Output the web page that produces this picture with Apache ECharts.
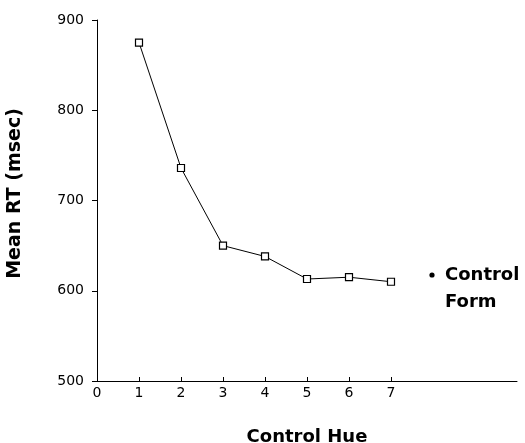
<!DOCTYPE html>
<html>
<head>
<meta charset="utf-8">
<script src="https://cdn.jsdelivr.net/npm/echarts@6/dist/echarts.min.js"></script>
<style>
	html, body { margin: 0; padding: 0; background: #fff; }
	#chart { width: 525px; height: 443px; }
</style>
</head>
<body>
<div id="chart"></div>
<script>
// x axis categories (0..10), only 0..7 are labelled
var hueTicks = ['0', '1', '2', '3', '4', '5', '6', '7', '8', '9', '10'];
var hueLevels = [1, 2, 3, 4, 5, 6, 7];
var meanRT = [875, 736, 650, 638, 613, 615, 610];

var chart = echarts.init(document.getElementById('chart'));
var font = 'DejaVu Sans';

var pts = [];
for (var i = 0; i < hueLevels.length; i++) {
	pts.push([String(hueLevels[i]), meanRT[i]]);
}

option = {
	animation: false,
	grid: {
		left: 97,
		right: 8,
		top: 20,
		bottom: 62,
		containLabel: false,
		outerBoundsMode: 'none'
	},
	xAxis: {
		type: 'category',
		data: hueTicks,
		boundaryGap: false,
		name: 'Control Hue',
		nameLocation: 'middle',
		nameGap: 47,
		nameTextStyle: { fontFamily: font, fontWeight: 'bold', fontSize: 18, color: '#000' },
		axisLine: { lineStyle: { color: '#000', width: 1 } },
		axisTick: {
			inside: true,
			length: 4,
			lineStyle: { color: '#000' },
			interval: function(index) { return index <= 7; }
		},
		axisLabel: {
			interval: function(index) { return index <= 7; },
			margin: 5,
			fontFamily: font,
			fontSize: 14,
			color: '#000'
		},
		splitLine: { show: false }
	},
	yAxis: {
		type: 'value',
		min: 500,
		max: 900,
		interval: 100,
		name: 'Mean RT (msec)',
		nameLocation: 'middle',
		nameGap: 72,
		nameRotate: 90,
		nameTextStyle: { fontFamily: font, fontWeight: 'bold', fontSize: 19, color: '#000', padding: [0, 0, 0, 14] },
		axisLine: { show: true, lineStyle: { color: '#000', width: 1 } },
		axisTick: { show: true, length: 5, lineStyle: { color: '#000' } },
		axisLabel: { margin: 13, fontFamily: font, fontSize: 14, color: '#000' },
		splitLine: { show: false }
	},
	series: [
		{
			name: 'Control Hue',
			type: 'line',
			data: pts,
			symbol: 'rect',
			symbolSize: 7,
			lineStyle: { color: '#000', width: 1 },
			itemStyle: { color: '#fff', borderColor: '#000', borderWidth: 1.2 }
		}
	],
	graphic: [
		{
			type: 'circle',
			shape: { cx: 432, cy: 275, r: 2.6 },
			style: { fill: '#000' }
		},
		{
			type: 'text',
			left: 445,
			top: 262,
			style: {
				text: 'Control\nForm',
				font: 'bold 18px "DejaVu Sans"',
				lineHeight: 27,
				fill: '#000'
			}
		}
	]
};
chart.setOption(option);
</script>
</body>
</html>
